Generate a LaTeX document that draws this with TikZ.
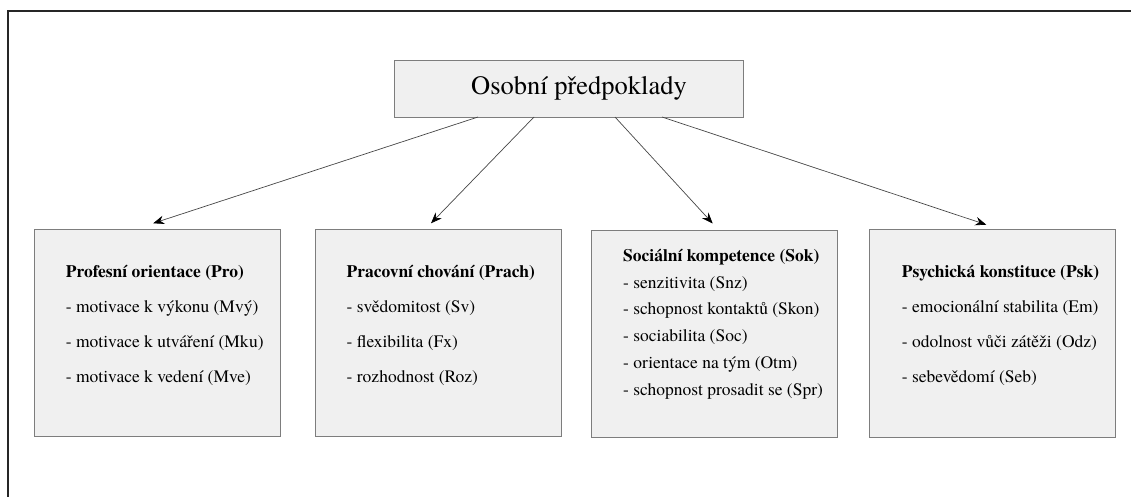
\documentclass[tikz,border=0pt]{standalone}
\usepackage{fontspec}
\IfFontExistsTF{texgyretermes-regular.otf}
  {\setmainfont{texgyretermes}[Extension=.otf,UprightFont=*-regular,BoldFont=*-bold,ItalicFont=*-italic,BoldItalicFont=*-bolditalic]}
  {\setmainfont{Liberation Serif}}
\usetikzlibrary{arrows.meta}
\definecolor{boxfill}{RGB}{240,240,240}
\definecolor{boxline}{RGB}{125,125,125}
\definecolor{arrline}{RGB}{70,70,70}
\tikzset{
  box/.style={draw=boxline, fill=boxfill, line width=0.9pt, anchor=north west, inner sep=0pt, outer sep=0pt},
  catbox/.style={box, minimum width=246pt, minimum height=207.5pt},
  txt/.style={anchor=base west, inner sep=0pt, font=\fontsize{17.5}{21}\selectfont},
  ttl/.style={txt, font=\fontsize{17.5}{21}\selectfont\bfseries},
  conn/.style={draw=arrline, line width=0.7pt, -{Stealth[length=11pt,width=8.5pt,black]}},
  frameline/.style={line width=2pt, draw=black!85}
}
\begin{document}
\begin{tikzpicture}[x=1pt,y=-1pt]
\useasboundingbox (0,0) rectangle (1131,497);
% frame
\coordinate (fl) at (8,497);
\coordinate (fc) at (8,11.5);
\coordinate (fr) at (1131,11.5);
\draw[frameline] (fl) -- (fc) -- (fr);
% top box
\node[box, minimum width=349pt, minimum height=57pt] (top) at (394,60) {};
\node[anchor=base west, inner sep=0pt, font=\fontsize{26.5}{30}\selectfont] (toptxt) at (471,95) {Osobní předpoklady};
% category boxes
\node[catbox] (b1) at (34.7,229.3) {};
\node[catbox] (b2) at (315,229.3) {};
\node[catbox] (b3) at (591.7,230) {};
\node[catbox] (b4) at (869.3,229.7) {};
% box 1
\node[ttl] (t1) at (65.7,277) {Profesní orientace (Pro)};
\node[txt] (t1a) at (65.7,312.5) {- motivace k výkonu (Mvý)};
\node[txt] (t1b) at (65.7,347.5) {- motivace k utváření (Mku)};
\node[txt] (t1c) at (65.7,382.5) {- motivace k vedení (Mve)};
% box 2
\node[ttl] (t2) at (346.5,277) {Pracovní chování (Prach)};
\node[txt] (t2a) at (346.5,312.5) {- svědomitost (Sv)};
\node[txt] (t2b) at (346.5,347.5) {- flexibilita (Fx)};
\node[txt] (t2c) at (346.5,382.5) {- rozhodnost (Roz)};
% box 3
\node[ttl] (t3) at (623,261.5) {Sociální kompetence (Sok)};
\node[txt] (t3a) at (623,288) {- senzitivita (Snz)};
\node[txt] (t3b) at (623,314.5) {- schopnost kontaktů (Skon)};
\node[txt] (t3c) at (623,341) {- sociabilita (Soc)};
\node[txt] (t3d) at (623,368) {- orientace na tým (Otm)};
\node[txt] (t3e) at (623,395) {- schopnost prosadit se (Spr)};
% box 4
\node[ttl] (t4) at (901.7,277) {Psychická konstituce (Psk)};
\node[txt] (t4a) at (901.7,312.5) {- emocionální stabilita (Em)};
\node[txt] (t4b) at (901.7,347.5) {- odolnost vůči zátěži (Odz)};
\node[txt] (t4c) at (901.7,382.5) {- sebevědomí (Seb)};
% arrow ends
\coordinate (e1) at ([xshift=118.5pt,yshift=6pt]b1.north west);
\coordinate (e2) at ([xshift=116pt,yshift=6pt]b2.north west);
\coordinate (e3) at ([xshift=121pt,yshift=6.5pt]b3.north west);
\coordinate (e4) at ([xshift=117pt,yshift=5pt]b4.north west);
\draw[conn] ([xshift=84pt]top.south west) -- (e1);
\draw[conn] ([xshift=140pt]top.south west) -- (e2);
\draw[conn] ([xshift=221pt]top.south west) -- (e3);
\draw[conn] ([xshift=268pt]top.south west) -- (e4);
\end{tikzpicture}
\end{document}
